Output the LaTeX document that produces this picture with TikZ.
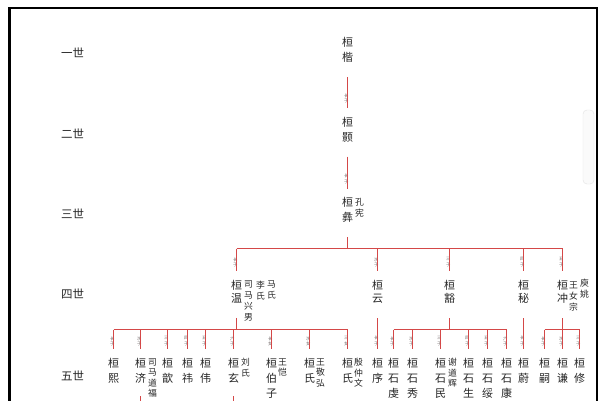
\documentclass[tikz,border=0pt]{standalone}
\usepackage{fontspec}
\setmainfont{Noto Sans CJK SC}[Color=262626]
\newfontfamily\lblfont{Noto Sans CJK SC}[Color=6E6464]
\definecolor{rel}{RGB}{212,72,72}
\tikzset{
  nm/.style={inner sep=0pt, anchor=north, align=center, font=\fontsize{11}{15}\selectfont},
  nmf/.style={nm, font=\fontsize{11}{13.5}\selectfont},
  sp/.style={inner sep=0pt, anchor=north, align=center, font=\fontsize{8.8}{10.5}\selectfont},
  spf/.style={sp, font=\fontsize{8.8}{11}\selectfont},
  gen/.style={inner sep=0pt, font=\fontsize{11.5}{13}\selectfont},
  lbl/.style={inner sep=0pt, anchor=east, xshift=1.2pt, align=center, font=\lblfont\fontsize{4.3}{5.2}\selectfont},
  relline/.style={draw=rel, line width=1.1pt},
}
\newcommand{\relconn}[4]{% from, to, pos, label
  \path (#1) -- node[lbl,pos=#3]{#4} (#2);
  \draw[relline] (#1) -- (#2);}
\begin{document}
\begin{tikzpicture}[x=1pt,y=-1pt]
\useasboundingbox (0,0) rectangle (600,400);
\fill[white] (0,0) rectangle (600,400);
% frame
\draw[line width=3pt] (9.5,401) -- (9.5,8);
\draw[line width=2pt] (8,8) -- (597,8) -- (597,401);
% scrollbar
\draw[draw=gray!22, fill=gray!4, rounded corners=4pt] (583,110) rectangle (594,184);
\begin{scope}[shift={(0.5,0.5)}]
% generation labels
\node[gen] (g1) at (72,52) {一世};
\node[gen] (g2) at (72,133) {二世};
\node[gen] (g3) at (72,213) {三世};
\node[gen] (g4) at (72,293) {四世};
\node[gen] (g5) at (72,375) {五世};
% generation 1-3
\node[nm] (kai) at (347,37) {桓\\楷};
\node[nm] (hao) at (347,116.5) {桓\\颢};
\node[nm] (yi) at (347,197) {桓\\彝};
\node[sp] (yisp) at (359,198) {孔\\宪};
\relconn{[yshift=-14pt]kai.south}{[yshift=9pt]hao.north}{0.7}{长\\子}
\relconn{[yshift=-14pt]hao.south}{[yshift=9pt]yi.north}{0.7}{长\\子}
% generation 4
\node[nmf] (wen) at (236,279.5) {桓\\温};
\node[spf] (wensa) at (248,280) {司\\马\\兴\\男};
\node[spf] (wensb) at (260,280) {李\\氏};
\node[spf] (wensc) at (271,280) {马\\氏};
\node[nmf] (yun) at (377,279.5) {桓\\云};
\node[nmf] (huo) at (449,279.5) {桓\\豁};
\node[nmf] (mi) at (523,279.5) {桓\\秘};
\node[nmf] (chong) at (562,279.5) {桓\\冲};
\node[spf] (chongsa) at (573,281) {王\\女\\宗};
\node[spf] (chongsb) at (584,278) {庾\\姚};
\coordinate (b4) at (0,248);
\draw[relline] ([yshift=-14pt]yi.south) -- (yi.south |- b4);
\draw[relline] (wen.north |- b4) -- (chong.north |- b4);
\foreach \c/\t in {wen/长, yun/次, huo/三, mi/四, chong/五}
  {\relconn{\c.north |- b4}{[yshift=9pt]\c.north}{0.6}{\t\\子}}
% generation 5
\foreach \n/\x/\s in {xi/113/熙, ji/140/济, xin/167/歆, wei/187/祎, weii/205/伟, xuan/233/玄,
  shia/309/氏, shib/347/氏, xu/377/序, shimin/440/石\\民, shiqian/393/石\\虔, shixiu/412/石\\秀,
  shisheng/468/石\\生, shisui/487/石\\绥, shikang/506/石\\康, yu/523/蔚, si/544/嗣, qian/562/谦, xiu/579/修, bozi/271/伯\\子}
  \node[nm] (\n) at (\x,357.5) {桓\\\s};
\node[sp] (jisp) at (152,357.5) {司\\马\\道\\福};
\node[sp] (xuansp) at (245,357.5) {刘\\氏};
\node[sp] (bozisp) at (282,357.5) {王\\恺};
\node[sp] (shiasp) at (320,357.5) {王\\敬\\弘};
\node[sp] (shibsp) at (358,357.5) {殷\\仲\\文};
\node[sp] (shiminsp) at (452,357.5) {谢\\道\\辉};
\coordinate (b5) at (0,329);
% Huan Wen's children
\draw[relline] ([yshift=-14pt]wen.south) -- (wen.south |- b5);
\draw[relline] (xi.north |- b5) -- (shib.north |- b5);
\foreach \c/\t in {xi/长\\子, ji/次\\子, xin/三\\子, wei/四\\子, weii/五\\子, xuan/六\\子, bozi/长\\女, shia/次\\女, shib/三\\女}
  {\relconn{\c.north |- b5}{[yshift=9pt]\c.north}{0.59}{\t}}
% Huan Yun
\relconn{[yshift=-14pt]yun.south}{[yshift=9pt]xu.north}{0.74}{长\\子}
% Huan Huo
\draw[relline] ([yshift=-14pt]huo.south) -- (huo.south |- b5);
\draw[relline] (shiqian.north |- b5) -- (shikang.north |- b5);
\foreach \c/\t in {shiqian/长, shixiu/次, shimin/三, shisheng/四, shisui/五, shikang/六}
  {\relconn{\c.north |- b5}{[yshift=9pt]\c.north}{0.59}{\t\\子}}
% Huan Mi
\relconn{[yshift=-14pt]mi.south}{[yshift=9pt]yu.north}{0.74}{长\\子}
% Huan Chong
\draw[relline] ([yshift=-14pt]chong.south) -- (chong.south |- b5);
\draw[relline] (si.north |- b5) -- (xiu.north |- b5);
\foreach \c/\t in {si/长, qian/次, xiu/三}
  {\relconn{\c.north |- b5}{[yshift=9pt]\c.north}{0.59}{\t\\子}}
% stubs to next generation
\coordinate (jiend) at (140,402);
\coordinate (xuanend) at (233,402);
\draw[relline] ([yshift=-13pt]ji.south) -- (jiend);
\draw[relline] ([yshift=-13pt]xuan.south) -- (xuanend);
\end{scope}
\end{tikzpicture}
\end{document}
